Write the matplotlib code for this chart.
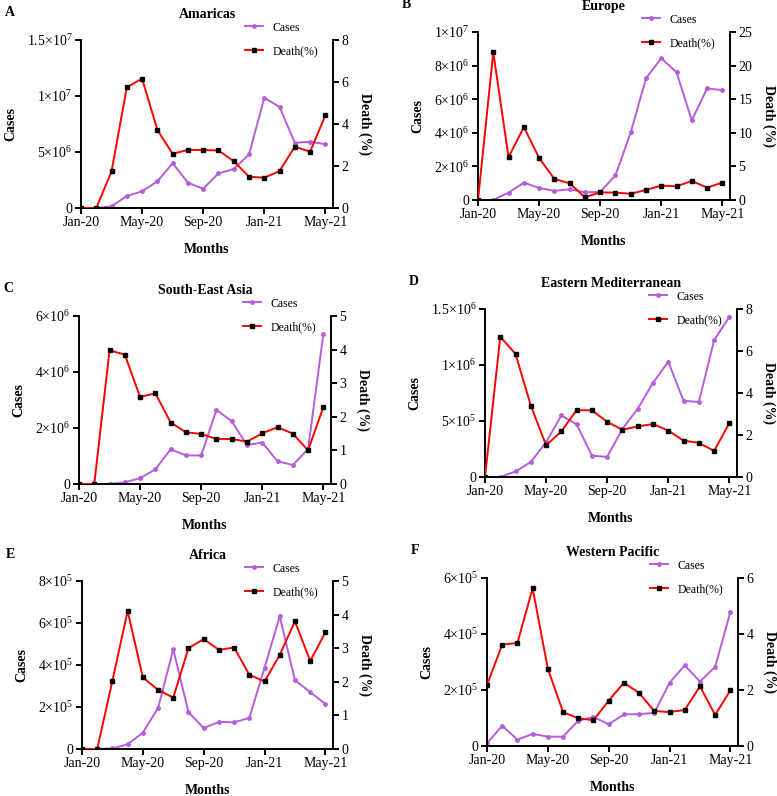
import matplotlib
matplotlib.use("Agg")
import matplotlib.pyplot as plt
from matplotlib.ticker import FixedLocator, FixedFormatter

plt.rcParams['font.family'] = ['Liberation Serif', 'DejaVu Serif']
plt.rcParams['mathtext.fontset'] = 'custom'
plt.rcParams['mathtext.rm'] = 'Liberation Serif'
plt.rcParams['mathtext.it'] = 'Liberation Serif:italic'
plt.rcParams['mathtext.bf'] = 'Liberation Serif:bold'

# Месяцы
months = ['Jan-20', 'Feb-20', 'Mar-20', 'Apr-20', 'May-20', 'Jun-20', 'Jul-20', 'Aug-20',
          'Sep-20', 'Oct-20', 'Nov-20', 'Dec-20', 'Jan-21', 'Feb-21', 'Mar-21', 'Apr-21', 'May-21']
tick_months = ['Jan-20', 'May-20', 'Sep-20', 'Jan-21', 'May-21']

# A - Americas
cases_a = [0, 0, 0.15e6, 1.07e6, 1.49e6, 2.38e6, 4.0e6, 2.26e6, 1.72e6, 3.09e6, 3.48e6,
           4.78e6, 9.83e6, 9.03e6, 5.82e6, 5.91e6, 5.70e6]
death_a = [0, 0, 1.74, 5.75, 6.16, 3.72, 2.58, 2.77, 2.76, 2.74, 2.23, 1.49, 1.44, 1.76,
           2.92, 2.68, 4.41]

# B - Europe
cases_b = [0, 0, 0.44e6, 1.03e6, 0.72e6, 0.54e6, 0.64e6, 0.46e6, 0.48e6, 1.47e6, 4.02e6,
           7.24e6, 8.44e6, 7.6e6, 4.74e6, 6.64e6, 6.54e6]
death_b = [0, 21.97, 6.37, 10.84, 6.27, 3.13, 2.49, 0.4, 1.14, 1.09, 0.94, 1.49, 2.14, 2.04,
           2.83, 1.84, 2.59]

# C - South-East Asia
cases_c = [0, 0, 0, 0.06e6, 0.21e6, 0.52e6, 1.24e6, 1.02e6, 1.02e6, 2.65e6, 2.24e6, 1.39e6,
           1.48e6, 0.81e6, 0.68e6, 1.25e6, 5.36e6]
death_c = [0, 0, 3.98, 3.85, 2.59, 2.70, 1.83, 1.54, 1.49, 1.34, 1.34, 1.26, 1.51, 1.69,
           1.50, 1.0, 2.29]

# D - Eastern Mediterranean
cases_d = [0, 0, 0.05e6, 0.134e6, 0.31e6, 0.55e6, 0.47e6, 0.19e6, 0.18e6, 0.43e6, 0.61e6,
           0.84e6, 1.03e6, 0.68e6, 0.67e6, 1.22e6, 1.43e6]
death_d = [0, 6.68, 5.86, 3.40, 1.51, 2.17, 3.19, 3.17, 2.63, 2.25, 2.41, 2.52, 2.21, 1.73,
           1.63, 1.24, 2.57]

# E - Africa
cases_e = [0, 0, 3e3, 22e3, 78e3, 195e3, 475e3, 175e3, 100e3, 129e3, 127e3, 148e3, 387e3,
           632e3, 327e3, 271e3, 214e3]
death_e = [0, 0, 2.03, 4.11, 2.13, 1.76, 1.53, 3.0, 3.27, 2.95, 3.02, 2.21, 2.01, 2.80, 3.80,
           2.62, 3.47]

# F - Western Pacific
cases_f = [9.5e3, 72.6e3, 22.6e3, 42.9e3, 33.3e3, 33.3e3, 90.5e3, 103.6e3, 77.4e3, 113e3,
           114e3, 118e3, 226e3, 288e3, 230e3, 283e3, 479e3]
death_f = [2.18, 3.62, 3.68, 5.63, 2.76, 1.21, 0.99, 0.92, 1.62, 2.26, 1.89, 1.25, 1.21, 1.29,
           2.13, 1.11, 1.99]

W, H = 777, 796
PURPLE = '#B45EDC'
RED = '#FF0000'
FS = 10

panels = [
    # буква, заголовок, cases, death, left ticks, left labels, right max, right step, (left, right, top, bottom) px
    ('A', 'Amaricas', cases_a, death_a, [0, 5e6, 1e7, 1.5e7],
     ['0', r'5×10$^{6}$', r'1×10$^{7}$', r'1.5×10$^{7}$'], 8, 2, (81, 333, 40, 208)),
    ('B', 'Europe', cases_b, death_b, [0, 2e6, 4e6, 6e6, 8e6, 1e7],
     ['0', r'2×10$^{6}$', r'4×10$^{6}$', r'6×10$^{6}$', r'8×10$^{6}$', r'1×10$^{7}$'], 25, 5,
     (478, 730, 32, 200)),
    ('C', 'South-East Asia', cases_c, death_c, [0, 2e6, 4e6, 6e6],
     ['0', r'2×10$^{6}$', r'4×10$^{6}$', r'6×10$^{6}$'], 5, 1, (79, 331, 316, 484)),
    ('D', 'Eastern Mediterranean', cases_d, death_d, [0, 5e5, 1e6, 1.5e6],
     ['0', r'5×10$^{5}$', r'1×10$^{6}$', r'1.5×10$^{6}$'], 8, 2, (485, 737, 309, 477)),
    ('E', 'Africa', cases_e, death_e, [0, 2e5, 4e5, 6e5, 8e5],
     ['0', r'2×10$^{5}$', r'4×10$^{5}$', r'6×10$^{5}$', r'8×10$^{5}$'], 5, 1, (82, 333, 581, 749)),
    ('F', 'Western Pacific', cases_f, death_f, [0, 2e5, 4e5, 6e5],
     ['0', r'2×10$^{5}$', r'4×10$^{5}$', r'6×10$^{5}$'], 6, 2, (487, 738, 578, 746)),
]

fig = plt.figure(figsize=(W / 100, H / 100), dpi=100)

x = list(range(len(months)))
tick_pos = [months.index(m) for m in tick_months]

for letter, title, cases, death, lticks, llabels, rmax, rstep, box in panels:
    l, r, t, b = box
    ax = fig.add_axes([l / W, (H - b) / H, (r - l) / W, (b - t) / H])
    ax2 = ax.twinx()

    ln1, = ax.plot(x, cases, color=PURPLE, lw=1.4, marker='o', ms=2.5, label='Cases')
    ln2, = ax2.plot(x, death, color=RED, lw=1.4, marker='s', ms=3, mfc='black', mec='black',
                    label='Death(%)')

    ax.set_xlim(0, 16.5)
    ax.set_ylim(0, lticks[-1])
    ax2.set_ylim(0, rmax)
    ax.yaxis.set_major_locator(FixedLocator(lticks))
    ax.yaxis.set_major_formatter(FixedFormatter(llabels))
    ax2.set_yticks(list(range(0, rmax + 1, rstep)))
    ax.set_xticks(tick_pos)
    ax.set_xticklabels(tick_months)

    for a in (ax, ax2):
        a.spines['top'].set_visible(False)
        for s in ('left', 'right', 'bottom'):
            a.spines[s].set_linewidth(1.4)
        a.tick_params(width=1.4, length=4, labelsize=FS, pad=2, direction='out')
    ax.spines['right'].set_visible(False)
    ax2.spines['left'].set_visible(False)
    ax2.spines['bottom'].set_visible(False)

    ax.set_ylabel('Cases', fontsize=FS, fontweight='bold', labelpad=7)
    ax2.set_ylabel('Death (%)', fontsize=FS, fontweight='bold', rotation=270, labelpad=17)
    ax.set_xlabel('Months', fontsize=FS, fontweight='bold', labelpad=10)
    ax.set_title(title, fontsize=FS, fontweight='bold', pad=16)

    ax2.legend([ln1, ln2], ['Cases', 'Death(%)'], loc='upper left', bbox_to_anchor=(0.65, 1.11),
               frameon=False, fontsize=8.5, borderpad=0, borderaxespad=0, handlelength=1.5,
               handletextpad=0.85, labelspacing=1.0)

    fig.text((l - 76) / W, 1 - (t - 27) / H, letter, fontsize=FS, fontweight='bold',
             ha='left', va='center')

plt.savefig('out.png', dpi=100)
